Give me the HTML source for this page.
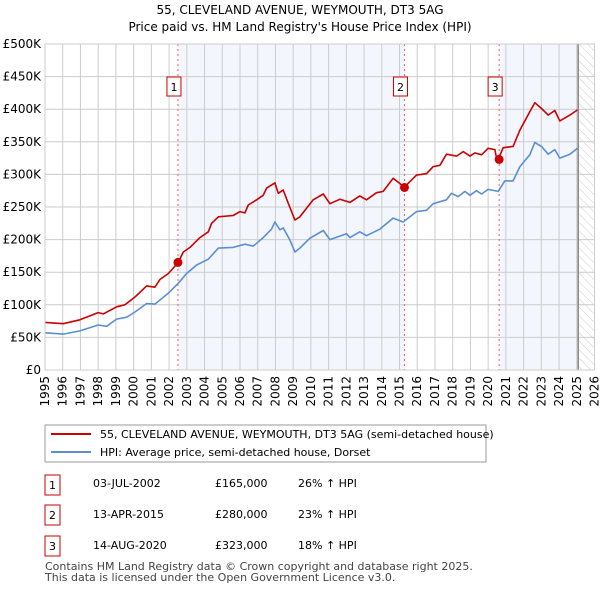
<!DOCTYPE html>
<html><head><meta charset="utf-8"><style>
body{margin:0;background:#fff;font-family:"DejaVu Sans","Liberation Sans",sans-serif;}
svg text{font-family:"DejaVu Sans","Liberation Sans",sans-serif;}
</style></head><body>
<svg id="c" width="600" height="590" xmlns="http://www.w3.org/2000/svg">
<defs><pattern id="hatch" width="6" height="6" patternUnits="userSpaceOnUse" patternTransform="rotate(-45)"><line x1="0" y1="0" x2="0" y2="6" stroke="#ccc" stroke-width="1"/></pattern></defs>
<text x="300" y="14" text-anchor="middle" font-size="12">55, CLEVELAND AVENUE, WEYMOUTH, DT3 5AG</text>
<text x="300" y="31" text-anchor="middle" font-size="12">Price paid vs. HM Land Registry's House Price Index (HPI)</text>
<g id="plot"></g>
<g>
<rect x="45" y="425" width="441" height="37" fill="#fff" stroke="#999"/>
<line x1="51" y1="434" x2="91" y2="434" stroke="#cc0000" stroke-width="2"/>
<text x="100" y="438" font-size="11">55, CLEVELAND AVENUE, WEYMOUTH, DT3 5AG (semi-detached house)</text>
<line x1="51" y1="452" x2="91" y2="452" stroke="#5b8fd4" stroke-width="2"/>
<text x="100" y="456" font-size="11">HPI: Average price, semi-detached house, Dorset</text>
</g>
<g font-size="11">
<rect x="45" y="475" width="15" height="20" fill="#fff" stroke="#cc0000"/><text x="52.5" y="489" text-anchor="middle">1</text>
<text x="93" y="487">03-JUL-2002</text><text x="215" y="487">£165,000</text><text x="298" y="487">26% ↑ HPI</text>
<rect x="45" y="505" width="15" height="20" fill="#fff" stroke="#cc0000"/><text x="52.5" y="519" text-anchor="middle">2</text>
<text x="93" y="518">13-APR-2015</text><text x="215" y="518">£280,000</text><text x="298" y="518">23% ↑ HPI</text>
<rect x="45" y="536" width="15" height="20" fill="#fff" stroke="#cc0000"/><text x="52.5" y="550" text-anchor="middle">3</text>
<text x="93" y="549">14-AUG-2020</text><text x="215" y="549">£323,000</text><text x="298" y="549">18% ↑ HPI</text>
</g>
<text x="45" y="570" font-size="11" fill="#444">Contains HM Land Registry data © Crown copyright and database right 2025.</text>
<text x="45" y="581" font-size="11" fill="#444">This data is licensed under the Open Government Licence v3.0.</text>
</svg>
<script>
const hpiYears=[1995.0,1996.03,1996.97,1998.0,1998.48,1999.04,1999.61,2000.08,2000.73,2001.2,2001.96,2002.52,2002.99,2003.55,2004.21,2004.78,2005.62,2006.28,2006.75,2007.31,2007.78,2007.97,2008.25,2008.44,2008.82,2009.1,2009.38,2009.94,2010.7,2011.07,2012.01,2012.2,2012.76,2013.14,2013.89,2014.64,2015.21,2015.96,2016.52,2016.9,2017.65,2017.93,2018.31,2018.69,2018.97,2019.34,2019.63,2020.0,2020.57,2020.94,2021.41,2021.79,2022.35,2022.63,2023.01,2023.39,2023.76,2024.04,2024.61,2025.04];
const hpiValues=[57,55,60,69,67,78,81,89,102,101,118,133,148,161,170,187,188,193,190,203,216,227,215,218,199,181,187,202,214,200,209,203,212,206,216,233,227,243,245,255,261,271,266,274,268,275,270,277,274,290,290,312,330,349,343,331,338,325,331,340];
const ppYears=[1995.0,1996.03,1996.97,1998.0,1998.29,1999.04,1999.51,2000.08,2000.73,2001.2,2001.49,2001.96,2002.52,2002.8,2003.18,2003.74,2004.21,2004.4,2004.78,2005.62,2006.0,2006.28,2006.47,2006.94,2007.31,2007.5,2007.97,2008.16,2008.44,2008.72,2009.1,2009.38,2010.13,2010.7,2011.07,2011.64,2012.2,2012.76,2013.14,2013.7,2014.08,2014.64,2015.02,2015.26,2015.96,2016.52,2016.9,2017.28,2017.65,2018.22,2018.59,2018.97,2019.25,2019.63,2020.0,2020.38,2020.47,2020.57,2020.85,2021.41,2021.79,2022.35,2022.63,2023.01,2023.39,2023.76,2024.04,2024.61,2025.04];
const ppValues=[73,71,77,88,86,97,100,112,129,127,139,148,165,181,188,203,212,225,235,237,243,241,253,261,268,279,287,271,276,256,230,235,261,270,255,262,257,267,261,272,274,294,286,280,299,301,312,314,331,328,335,328,333,330,340,338,325,323,341,343,368,396,410,401,391,398,382,391,399];
const saleYears=[2002.5,2015.28,2020.62];
const saleValues=[165,280,323];
const saleLabels=["1","2","3"];
const yTicks=[0,50,100,150,200,250,300,350,400,450,500];
const xTicks=[1995,1996,1997,1998,1999,2000,2001,2002,2003,2004,2005,2006,2007,2008,2009,2010,2011,2012,2013,2014,2015,2016,2017,2018,2019,2020,2021,2022,2023,2024,2025,2026];
const X0=45,X1=594.5,Y0=370,Y1=44,dataEnd=2025.08;
const xs=y=>X0+(y-1995)/(2026-1995)*(X1-X0);
const ys=v=>Y0-v/500*(Y0-Y1);
const NS="http://www.w3.org/2000/svg";
const g=document.getElementById('plot');
function mk(t,a,p){const e=document.createElementNS(NS,t);for(const k in a)e.setAttribute(k,a[k]);(p||g).appendChild(e);return e;}
// shading
let r=mk('rect',{x:xs(saleYears[0]),y:Y1,width:xs(saleYears[1])-xs(saleYears[0]),height:Y0-Y1,fill:'#eef2fc',opacity:0.7});

r=mk('rect',{x:xs(saleYears[2]),y:Y1,width:xs(dataEnd)-xs(saleYears[2]),height:Y0-Y1,fill:'#eef2fc',opacity:0.7});

r=mk('rect',{x:xs(dataEnd),y:Y1,width:X1-xs(dataEnd),height:Y0-Y1,fill:'url(#hatch)'});

// grid
yTicks.forEach(v=>{const l=mk('line',{x1:X0,x2:X1,y1:ys(v),y2:ys(v),stroke:'#ccc'});

const t=mk('text',{x:X0-4,y:ys(v)+4,'text-anchor':'end','font-size':12});t.textContent='£'+(v===0?'0':v+'K');
});
xTicks.forEach(y=>{const l=mk('line',{x1:xs(y),x2:xs(y),y1:Y1,y2:Y0,stroke:'#ccc'});

const t=mk('text',{x:0,y:0,'text-anchor':'end','font-size':12,transform:`translate(${xs(y)+4},${Y0+6}) rotate(-90)`});t.textContent=y;
});
let dl=mk('line',{x1:xs(dataEnd),x2:xs(dataEnd),y1:Y1,y2:Y0,stroke:'#888','stroke-width':1.5});

// sale lines
saleYears.forEach((y,i)=>{const l=mk('line',{x1:xs(y),x2:xs(y),y1:Y1,y2:Y0,stroke:'#f06060','stroke-dasharray':'2,3'});
});
function path(xsA,vs,col,name){const d=xsA.map((y,i)=>(i?'L':'M')+xs(y).toFixed(1)+','+ys(vs[i]).toFixed(1)).join('');
const p=mk('path',{d:d,fill:'none',stroke:col,'stroke-width':1.6,'stroke-linejoin':'round'});
}
path(hpiYears,hpiValues,'#5b8fd4','hpi-line');
path(ppYears,ppValues,'#cc0000','price-paid-line');
saleYears.forEach((y,i)=>{const c=mk('circle',{cx:xs(y),cy:ys(saleValues[i]),r:4.5,fill:'#cc0000'});

const b=mk('rect',{x:xs(y)-11,y:77,width:14,height:19,fill:'#fff',stroke:'#cc0000'});

const t=mk('text',{x:xs(y)-4,y:91,'text-anchor':'middle','font-size':11});t.textContent=saleLabels[i];
});
const fr=mk('rect',{x:X0,y:Y1,width:X1-X0,height:Y0-Y1,fill:'none',stroke:'#ccc'});

</script>
</body></html>
